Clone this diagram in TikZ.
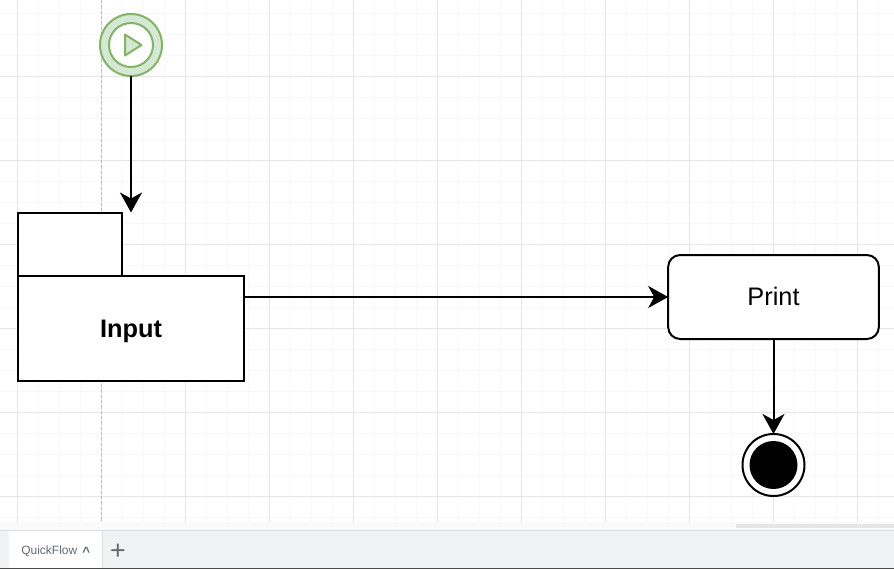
\documentclass[tikz,border=0pt]{standalone}
\usepackage{fontspec}
\setmainfont{Liberation Sans}
\usetikzlibrary{arrows.meta, positioning}
\definecolor{gridmajor}{HTML}{E6E6E6}
\definecolor{gridminor}{HTML}{F8F8F8}
\definecolor{startfill}{HTML}{D5E8D4}
\definecolor{startline}{HTML}{82B366}
\definecolor{tabbar}{HTML}{F1F2F4}
\definecolor{tabline}{HTML}{DADCE0}
\definecolor{tabtext}{HTML}{5F6B7A}
\tikzstyle{startouter} = [circle, draw=startline, fill=startfill, line width=1.5pt, minimum size=46.5pt, inner sep=0pt, outer sep=0pt]
\tikzstyle{startinner} = [circle, draw=startline, fill=white, line width=1.5pt, minimum size=33pt, inner sep=0pt, outer sep=0pt]
\tikzstyle{package} = [rectangle, draw, fill=white, line width=1.5pt, inner sep=0pt, outer sep=0pt, text centered]
\tikzstyle{process} = [rectangle, rounded corners=9pt, draw, fill=white, line width=1.5pt, minimum width=158pt, minimum height=63pt, inner sep=0pt, outer sep=0pt, text centered, text depth=1.5pt]
\tikzstyle{endouter} = [circle, draw, fill=white, line width=1.5pt, minimum size=46.5pt, inner sep=0pt, outer sep=0pt]
\tikzstyle{endinner} = [circle, fill=black, minimum size=36pt, inner sep=0pt, outer sep=0pt]
\tikzstyle{arrow} = [line width=1.5pt, -{Stealth[length=15pt, width=16.5pt, inset=4.5pt]}]

\begin{document}
\begin{tikzpicture}[x=0.75pt, y=-0.75pt, font=\fontsize{19pt}{22pt}\selectfont]
\useasboundingbox (0,0) rectangle (894,569);
% Canvas
\fill[white] (0,0) rectangle (894,522);
\foreach \x in {38,59,80,122,143,164,206,227,248,290,311,332,374,395,416,458,479,500,542,563,584,626,647,668,710,731,752,794,815,836,878}
  \draw[gridminor] (\x,0) -- (\x,522);
\foreach \y in {13,34,55,97,118,139,181,202,223,265,286,307,349,370,391,433,454,475,517}
  \draw[gridminor] (0,\y) -- (894,\y);
\foreach \x in {17,101,185,269,353,437,521,605,689,773,857}
  \draw[gridmajor] (\x,0) -- (\x,522);
\foreach \y in {76,160,244,328,412,496}
  \draw[gridmajor] (0,\y) -- (894,\y);
\draw[gray!50, dash pattern=on 2.5pt off 1.5pt] (101.5,0) -- (101.5,522);

% Tab bar
\fill[black!2] (0,522) rectangle (894,530);
\fill[tabbar] (0,530) rectangle (894,568);
\draw[tabline] (0,530.5) -- (894,530.5);
\fill[gridmajor] (736,524) rectangle (894,528);
\node (quickflowtab) [rectangle, fill=white, minimum width=69.75pt, minimum height=27.5pt, inner sep=0pt, anchor=north west] at (9,531) {};
\draw[tabline] (quickflowtab.north east) -- (quickflowtab.south east);
\fill[black!70] (0,568) rectangle (894,569);
\node (tablabel) [text=tabtext, font=\fontsize{9pt}{11pt}\selectfont, right=7pt of quickflowtab.west, inner sep=2pt, yshift=-1pt] {QuickFlow};
\node (tabcaret) [text=tabtext, font=\fontsize{10pt}{11pt}\selectfont\bfseries, right=1.5pt of tablabel, inner sep=0pt, yshift=-1pt] {\^{}};
\node (tabplus) [text=black!60, font=\fontsize{20pt}{20pt}\selectfont, right=5.5pt of quickflowtab.east, inner sep=0pt, yshift=-2pt] {+};

% Nodes
\node (start) [startouter] at (131,45) {};
\node (startring) [startinner] at (start) {};
\draw[startline, fill=startfill, line width=1.5pt, line join=round] (start.center) ++(-6,-10.5) -- ++(16.5,10.5) -- ++(-16.5,10.5) -- cycle;

\node (input) [package, minimum width=169.5pt, minimum height=79pt, text depth=0pt, font=\fontsize{19pt}{22pt}\selectfont\bfseries] at (131,328.5) {Input};
\node (inputtab) [package, minimum width=78pt, minimum height=47.25pt, anchor=south west] at (input.north west) {};
\coordinate[above=47.5pt of input.north] (inputtop);

\node (print) [process] at (773.5,297) {Print};
\node (stop) [endouter, below=71.5pt of print.south, anchor=center, yshift=-23pt] {};
\node (stopdot) [endinner] at (stop) {};

% Connections
\draw [arrow] (start) -- (inputtop);
\draw [arrow] (input.east |- print.west) -- (print.west);
\draw [arrow] (print) -- (stop);

\end{tikzpicture}
\end{document}
